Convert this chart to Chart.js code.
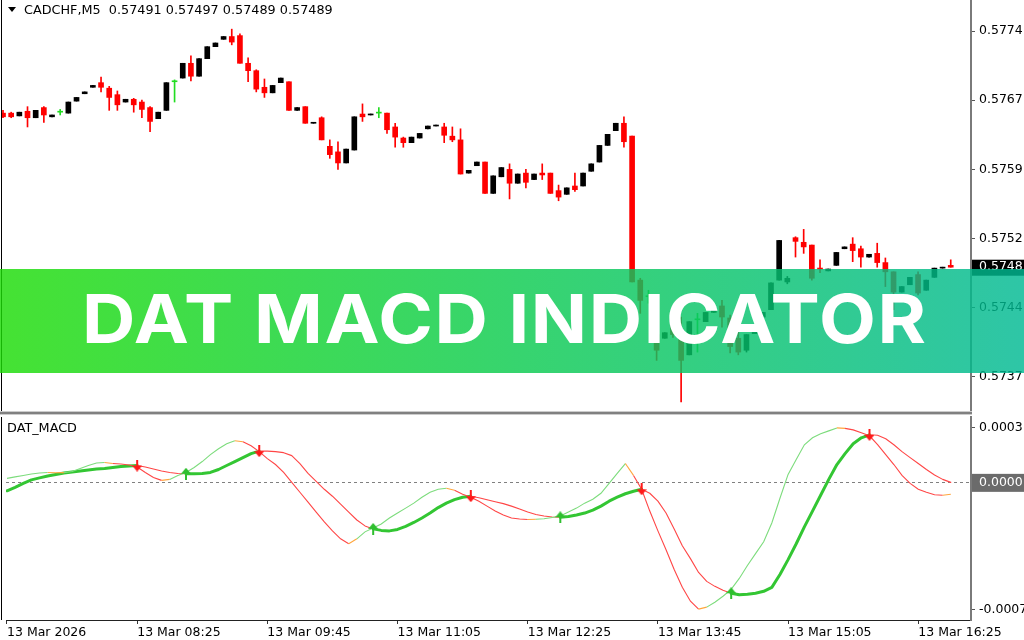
<!DOCTYPE html>
<html>
<head>
<meta charset="utf-8">
<title>CADCHF M5 - DAT MACD</title>
<script src="https://cdn.jsdelivr.net/npm/chart.js@4.4.1/dist/chart.umd.min.js"></script>
<style>
html,body{margin:0;padding:0;background:#fff;}
#wrap{position:relative;width:1024px;height:640px;overflow:hidden;background:#fff;}
#c1,#c2{position:absolute;left:0;}
#c1{top:0;}
#c2{top:411px;}
.lbl{position:absolute;font-family:"DejaVu Sans";font-size:12.8px;line-height:1;color:#000;white-space:pre;}
#tri{position:absolute;left:8px;top:7px;width:0;height:0;border-left:4px solid transparent;border-right:4px solid transparent;border-top:5px solid #000;}
#banner{position:absolute;left:0;top:269px;width:1024px;height:104px;background:linear-gradient(90deg,rgba(28,220,6,0.82) 0%,rgba(11,203,78,0.82) 50%,rgba(0,185,147,0.82) 100%);}
#btxt{position:absolute;font-family:Inter;font-weight:700;font-size:68px;line-height:68px;color:#fff;white-space:pre;transform-origin:0 0;}
</style>
</head>
<body>
<div id="wrap">
<canvas id="c1" width="1024" height="411"></canvas>
<canvas id="c2" width="1024" height="229"></canvas>
<div id="tri"></div>
<div id="hdr" class="lbl" style="left:24px;top:4px;"></div>
<div id="ind" class="lbl" style="left:7px;top:422px;"></div>
<div id="banner"><span id="btxt"></span></div>
</div>
<script>
// ---------------- data ----------------
const symbol = 'CADCHF,M5';
const indicatorName = 'DAT_MACD';
const bannerTitle = 'DAT MACD INDICATOR';

const open = [0.57656,0.57656,0.57653,0.57658,0.57651,0.57662,0.57652,0.57657,0.57656,0.57669,
0.57677,0.57684,0.57689,0.57683,0.57676,0.57668,0.57671,0.57668,0.57662,0.57650,
0.57659,0.57690,0.57694,0.57710,0.57696,0.57715,0.57728,0.57736,0.57739,0.57740,
0.57710,0.57702,0.57684,0.57678,0.57689,0.57690,0.57659,0.57663,0.57645,0.57651,
0.57620,0.57614,0.57602,0.57616,0.57655,0.57654,0.57656,0.57656,0.57641,0.57629,
0.57624,0.57629,0.57639,0.57642,0.57641,0.57631,0.57627,0.57591,0.57599,0.57603,
0.57569,0.57587,0.57595,0.57580,0.57591,0.57584,0.57591,0.57591,0.57572,0.57568,
0.57577,0.57577,0.57593,0.57603,0.57621,0.57637,0.57645,0.57631,0.57475,0.57457,
0.57416,0.57412,0.57426,0.57413,0.57394,0.57432,0.57430,0.57440,0.57447,0.57434,
0.57412,0.57399,0.57417,0.57435,0.57443,0.57475,0.57473,0.57521,0.57516,0.57513,
0.57488,0.57485,0.57491,0.57509,0.57514,0.57509,0.57500,0.57504,0.57494,0.57484,
0.57462,0.57470,0.57481,0.57464,0.57478,0.57488,0.57491];

const high = [0.57659,0.57657,0.57657,0.57663,0.57659,0.57663,0.57654,0.57660,0.57668,0.57673,
0.57679,0.57686,0.57695,0.57685,0.57680,0.57671,0.57672,0.57670,0.57663,0.57657,
0.57689,0.57692,0.57710,0.57718,0.57715,0.57728,0.57732,0.57739,0.57747,0.57742,
0.57716,0.57703,0.57693,0.57686,0.57694,0.57690,0.57662,0.57663,0.57646,0.57652,
0.57627,0.57625,0.57617,0.57652,0.57666,0.57655,0.57662,0.57656,0.57645,0.57630,
0.57630,0.57634,0.57642,0.57643,0.57645,0.57641,0.57639,0.57594,0.57603,0.57603,
0.57588,0.57597,0.57601,0.57590,0.57595,0.57590,0.57601,0.57591,0.57578,0.57575,
0.57591,0.57591,0.57601,0.57621,0.57633,0.57645,0.57652,0.57631,0.57477,0.57464,
0.57439,0.57418,0.57430,0.57435,0.57430,0.57439,0.57440,0.57445,0.57453,0.57437,
0.57421,0.57416,0.57419,0.57440,0.57472,0.57518,0.57479,0.57522,0.57530,0.57513,
0.57497,0.57487,0.57505,0.57511,0.57521,0.57512,0.57503,0.57515,0.57499,0.57484,
0.57468,0.57478,0.57484,0.57475,0.57488,0.57489,0.57497];

const low = [0.57651,0.57651,0.57653,0.57641,0.57651,0.57646,0.57652,0.57654,0.57656,0.57669,
0.57677,0.57684,0.57679,0.57659,0.57659,0.57668,0.57657,0.57651,0.57636,0.57650,
0.57659,0.57668,0.57694,0.57691,0.57696,0.57715,0.57728,0.57736,0.57730,0.57710,
0.57690,0.57679,0.57673,0.57678,0.57689,0.57659,0.57659,0.57645,0.57645,0.57627,
0.57607,0.57595,0.57602,0.57616,0.57647,0.57654,0.57651,0.57634,0.57619,0.57619,
0.57624,0.57629,0.57639,0.57642,0.57624,0.57625,0.57590,0.57591,0.57599,0.57569,
0.57569,0.57587,0.57563,0.57580,0.57575,0.57584,0.57584,0.57569,0.57561,0.57568,
0.57571,0.57577,0.57593,0.57603,0.57621,0.57637,0.57619,0.57473,0.57439,0.57450,
0.57388,0.57412,0.57413,0.57343,0.57394,0.57397,0.57430,0.57440,0.57424,0.57396,
0.57394,0.57397,0.57417,0.57435,0.57443,0.57475,0.57471,0.57500,0.57504,0.57475,
0.57483,0.57485,0.57491,0.57509,0.57495,0.57489,0.57500,0.57489,0.57468,0.57443,
0.57462,0.57470,0.57459,0.57464,0.57478,0.57488,0.57489];

const close = [0.57652,0.57652,0.57657,0.57651,0.57659,0.57654,0.57654,0.57657,0.57668,0.57673,
0.57679,0.57686,0.57684,0.57673,0.57665,0.57671,0.57665,0.57660,0.57647,0.57657,
0.57689,0.57690,0.57710,0.57696,0.57715,0.57728,0.57732,0.57739,0.57733,0.57710,
0.57702,0.57682,0.57678,0.57686,0.57694,0.57659,0.57662,0.57645,0.57646,0.57627,
0.57611,0.57602,0.57617,0.57652,0.57652,0.57655,0.57656,0.57638,0.57630,0.57624,
0.57630,0.57634,0.57642,0.57643,0.57632,0.57627,0.57590,0.57594,0.57603,0.57569,
0.57588,0.57597,0.57580,0.57590,0.57581,0.57590,0.57589,0.57569,0.57565,0.57575,
0.57573,0.57591,0.57601,0.57621,0.57633,0.57645,0.57625,0.57473,0.57453,0.57457,
0.57399,0.57418,0.57416,0.57388,0.57430,0.57432,0.57440,0.57445,0.57435,0.57403,
0.57397,0.57416,0.57419,0.57440,0.57472,0.57518,0.57477,0.57517,0.57511,0.57477,
0.57487,0.57487,0.57505,0.57511,0.57507,0.57500,0.57503,0.57494,0.57484,0.57462,
0.57468,0.57478,0.57461,0.57475,0.57488,0.57489,0.57489];

// DAT_MACD fast (main) line
const macdMain = [0.0000217,0.0000299,0.0000380,0.0000462,0.0000516,0.0000543,0.0000527,0.0000533,0.0000598,0.0000761,
0.0000924,0.0001060,0.0001087,0.0001033,0.0001005,0.0000951,0.0000842,0.0000543,0.0000272,0.0000109,
0.0000163,0.0000380,0.0000543,0.0000815,0.0001141,0.0001522,0.0001848,0.0002120,0.0002283,0.0002228,
0.0002011,0.0001685,0.0001304,0.0000978,0.0000543,0.0000000,-0.0000543,-0.0001087,-0.0001630,-0.0002174,
-0.0002663,-0.0003098,-0.0003370,-0.0003098,-0.0002717,-0.0002500,-0.0002283,-0.0001957,-0.0001685,-0.0001413,
-0.0001141,-0.0000815,-0.0000543,-0.0000380,-0.0000326,-0.0000435,-0.0000652,-0.0000815,-0.0001033,-0.0001304,
-0.0001576,-0.0001793,-0.0001957,-0.0002011,-0.0002038,-0.0002022,-0.0002000,-0.0001929,-0.0001848,-0.0001630,
-0.0001413,-0.0001141,-0.0000924,-0.0000598,-0.0000054,0.0000489,0.0001033,0.0000380,-0.0000380,-0.0001576,
-0.0002663,-0.0003696,-0.0004783,-0.0005761,-0.0006522,-0.0006957,-0.0006848,-0.0006576,-0.0006250,-0.0005870,
-0.0005272,-0.0004565,-0.0003913,-0.0003261,-0.0002228,-0.0000870,0.0000435,0.0001250,0.0002065,0.0002446,
0.0002663,0.0002826,0.0002989,0.0002962,0.0002880,0.0002717,0.0002554,0.0002065,0.0001522,0.0000978,
0.0000380,-0.0000054,-0.0000380,-0.0000543,-0.0000679,-0.0000707,-0.0000652];

// DAT_MACD slow (signal) line
const macdSignal = [-0.0000462,-0.0000272,-0.0000054,0.0000136,0.0000245,0.0000353,0.0000435,0.0000516,0.0000571,0.0000625,
0.0000679,0.0000734,0.0000761,0.0000815,0.0000870,0.0000897,0.0000924,0.0000842,0.0000734,0.0000625,
0.0000543,0.0000489,0.0000473,0.0000473,0.0000489,0.0000543,0.0000707,0.0000924,0.0001141,0.0001359,
0.0001576,0.0001712,0.0001712,0.0001685,0.0001630,0.0001467,0.0001033,0.0000489,0.0000054,-0.0000380,
-0.0000761,-0.0001196,-0.0001630,-0.0002065,-0.0002391,-0.0002554,-0.0002636,-0.0002663,-0.0002582,-0.0002418,
-0.0002201,-0.0001957,-0.0001685,-0.0001386,-0.0001141,-0.0000951,-0.0000815,-0.0000761,-0.0000842,-0.0000951,
-0.0001060,-0.0001168,-0.0001304,-0.0001467,-0.0001630,-0.0001766,-0.0001848,-0.0001902,-0.0001918,-0.0001875,
-0.0001793,-0.0001685,-0.0001522,-0.0001304,-0.0001033,-0.0000815,-0.0000625,-0.0000489,-0.0000380,-0.0000598,
-0.0001033,-0.0001685,-0.0002554,-0.0003478,-0.0004185,-0.0004946,-0.0005435,-0.0005707,-0.0005924,-0.0006087,
-0.0006168,-0.0006141,-0.0006087,-0.0005978,-0.0005761,-0.0005054,-0.0004239,-0.0003370,-0.0002446,-0.0001576,
-0.0000707,0.0000163,0.0000978,0.0001576,0.0002120,0.0002446,0.0002609,0.0002582,0.0002391,0.0002065,
0.0001685,0.0001359,0.0001033,0.0000707,0.0000408,0.0000163,0.0000000];

const upArrowBars = [22,45,68,89];
const downArrowBars = [16,31,57,78,106];

const timeTickBars = [0,16,32,48,64,80,96,112];
const timeTickLabels = ['13 Mar 2026','13 Mar 08:25','13 Mar 09:45','13 Mar 11:05','13 Mar 12:25','13 Mar 13:45','13 Mar 15:05','13 Mar 16:25'];
const priceTicks = [0.57370,0.57445,0.57520,0.57595,0.57670,0.57745];
const macdTicks = [-0.0007,0,0.0003];

// ---------------- helpers (styling only) ----------------
const bars = close.map((_, i) => i);
const last = close.length - 1;
const lastClose = close[last];
const X_MIN = -0.1224, X_MAX = 118.48;

Chart.defaults.font.family = 'DejaVu Sans';
Chart.defaults.color = '#000';

// price-axis labels are cut at the window edge: show the first four decimals
const cut4 = v => (Math.floor(v * 10000 + 1e-6) / 10000).toFixed(4);

function candleColor(i){
  if (close[i] > open[i]) return '#000000';
  if (close[i] < open[i]) return '#ff0000';
  return '#22dd22';
}
const bull = [];
{ let st = true; for (const i of bars){ if (upArrowBars.includes(i)) st = true; if (downArrowBars.includes(i)) st = false; bull.push(st); } }

function mainSegColor(ctx){
  const i = ctx.p0DataIndex;
  const d = Math.sign(macdMain[i+1]-macdMain[i]);
  const pd = i > 0 ? Math.sign(macdMain[i]-macdMain[i-1]) : d;
  if (d !== pd) return '#ffa63c';
  return d > 0 ? '#7ddc7d' : '#ff4646';
}

function arrowImg(color, up){
  const c = document.createElement('canvas'); c.width = 10; c.height = 12;
  const g = c.getContext('2d'); g.fillStyle = color;
  g.beginPath();
  if (up){ g.moveTo(5,0); g.lineTo(10,6); g.lineTo(0,6); g.closePath(); g.fill(); g.fillRect(4,5,2,7); }
  else { g.fillRect(4,0,2,7); g.moveTo(0,6); g.lineTo(10,6); g.lineTo(5,12); g.closePath(); g.fill(); }
  return c;
}
const upImg = arrowImg('#2fbf2f', true);
const downImg = arrowImg('#ff1a1a', false);

// ---------------- top: candlesticks ----------------
const topFrame = {
  id:'topFrame',
  afterDraw(chart){
    const g = chart.ctx;
    g.save(); g.fillStyle = '#000'; g.fillRect(1, 0, 1, chart.chartArea.bottom); g.restore();
  }
};

new Chart(document.getElementById('c1'), {
  type:'bar',
  data:{ datasets:[
    { label:'wick', data: bars.map(i => ({x:i, y:[low[i], high[i]]})), backgroundColor: bars.map(candleColor),
      barThickness:1, grouped:false, order:2, borderWidth:0 },
    { label:'body', data: bars.map(i => ({x:i, y:[open[i], close[i]]})), backgroundColor: bars.map(candleColor),
      barThickness:5, minBarLength:1, grouped:false, order:1, borderWidth:0 }
  ]},
  options:{
    responsive:false, animation:false, devicePixelRatio:1, events:[],
    layout:{padding:{left:2, top:0, right:0, bottom:0}},
    plugins:{legend:{display:false}, tooltip:{enabled:false}, title:{display:false}},
    scales:{
      x:{type:'linear', min:X_MIN, max:X_MAX, offset:false, display:false},
      y:{type:'linear', position:'right', min:0.5733315, max:0.577786,
        afterFit(s){ s.width = 53; s.paddingTop = 0; s.paddingBottom = 0; },
        afterBuildTicks(s){ s.ticks = priceTicks.concat([lastClose]).sort((a,b)=>a-b).map(v => ({value:v})); },
        ticks:{ autoSkip:false, padding:4, font:{size:12.5},
          callback: v => cut4(Number(v)),
          color: c => (c.tick && c.tick.value === lastClose) ? '#fff' : '#000',
          showLabelBackdrop:true,
          backdropColor: c => (c.tick && c.tick.value === lastClose) ? '#000' : 'rgba(0,0,0,0)',
          backdropPadding:{top:0, bottom:1, left:7, right:12} },
        grid:{ drawOnChartArea:false, drawTicks:true, tickLength:4,
          color: c => (c.tick && c.tick.value === lastClose) ? 'rgba(0,0,0,0)' : '#555' },
        border:{ display:true, color:'#7a7a7a', width:2 }
      }
    }
  },
  plugins:[topFrame]
});

// ---------------- bottom: DAT_MACD ----------------
const bottomFrame = {
  id:'bottomFrame',
  beforeDatasetsDraw(chart){
    const g = chart.ctx, a = chart.chartArea;
    const y = Math.round(chart.scales.y.getPixelForValue(0)) + 0.5;
    g.save(); g.strokeStyle = '#808080'; g.lineWidth = 1; g.setLineDash([3,3]);
    g.beginPath(); g.moveTo(a.left, y); g.lineTo(a.right, y); g.stroke(); g.restore();
  },
  afterDraw(chart){
    const g = chart.ctx, a = chart.chartArea;
    g.save();
    g.fillStyle = '#808080'; g.fillRect(0, 0.6, a.right + 1, 2.8);
    g.fillStyle = '#000'; g.fillRect(1, a.top, 1, a.bottom - a.top);
    g.restore();
  }
};

new Chart(document.getElementById('c2'), {
  type:'line',
  data:{ datasets:[
    { label:'signal', data: bars.map(i => ({x:i, y:macdSignal[i]})), pointRadius:0, borderWidth:1,
      borderJoinStyle:'round', borderCapStyle:'round', order:3,
      segment:{ borderColor: c => bull[c.p0DataIndex] ? '#33c633' : '#ff4646',
                borderWidth: c => bull[c.p0DataIndex] ? 3 : 1.1 } },
    { label:'main', data: bars.map(i => ({x:i, y:macdMain[i]})), pointRadius:0, borderWidth:1.1, order:2,
      segment:{ borderColor: mainSegColor } },
    { label:'up', type:'scatter', data: upArrowBars.map(i => ({x:i, y:macdSignal[i]})), pointStyle:upImg, pointRadius:5, order:1 },
    { label:'down', type:'scatter', data: downArrowBars.map(i => ({x:i, y:macdSignal[i]})), pointStyle:downImg, pointRadius:5, order:0 }
  ]},
  options:{
    responsive:false, animation:false, devicePixelRatio:1, events:[],
    layout:{padding:{left:2, top:4, right:0, bottom:0}},
    plugins:{legend:{display:false}, tooltip:{enabled:false}, title:{display:false}},
    scales:{
      x:{type:'linear', min:X_MIN, max:X_MAX, offset:false, position:'bottom',
        afterFit(s){ s.height = 20; s.paddingLeft = 0; s.paddingRight = 0; },
        afterBuildTicks(s){ s.ticks = timeTickBars.map(v => ({value:v})); },
        ticks:{ autoSkip:false, maxRotation:0, minRotation:0, align:'start', padding:1, font:{size:12.5},
          callback: v => timeTickLabels[timeTickBars.indexOf(v)] },
        grid:{ drawOnChartArea:false, drawTicks:true, tickLength:4, color:'#333' },
        border:{ display:true, color:'#222', width:1 }
      },
      y:{type:'linear', position:'right', min:-0.0007554, max:0.0003587,
        afterFit(s){ s.width = 53; s.paddingTop = 0; s.paddingBottom = 0; },
        afterBuildTicks(s){ s.ticks = macdTicks.map(v => ({value:v})); },
        ticks:{ autoSkip:false, padding:4, font:{size:12.5},
          callback: v => Number(v).toFixed(4),
          color: c => (c.tick && c.tick.value === 0) ? '#fff' : '#000',
          showLabelBackdrop:true,
          backdropColor: c => (c.tick && c.tick.value === 0) ? '#6b6b6b' : 'rgba(0,0,0,0)',
          backdropPadding:{top:1, bottom:2, left:7, right:10} },
        grid:{ drawOnChartArea:false, drawTicks:true, tickLength:4, color:'#555' },
        border:{ display:true, color:'#7a7a7a', width:2 }
      }
    }
  },
  plugins:[bottomFrame]
});

// ---------------- text overlays ----------------
const f5 = v => v.toFixed(5);
document.getElementById('hdr').textContent = symbol + '  ' + f5(open[last]) + ' ' + f5(high[last]) + ' ' + f5(low[last]) + ' ' + f5(close[last]);
document.getElementById('ind').textContent = indicatorName;

const t = document.getElementById('btxt');
t.textContent = bannerTitle;
const mctx = document.createElement('canvas').getContext('2d');
mctx.font = '700 68px Inter';
const m = mctx.measureText(bannerTitle);
const glyphW = m.actualBoundingBoxLeft + m.actualBoundingBoxRight;
const LS = 1.5;
const targetW = 839;
const sx = targetW / (glyphW + LS * (bannerTitle.length - 1));
t.style.letterSpacing = LS + 'px';
t.style.transform = 'scaleX(' + sx.toFixed(4) + ')';
t.style.left = (86 + m.actualBoundingBoxLeft * sx) + 'px';
const A = m.fontBoundingBoxAscent, D = m.fontBoundingBoxDescent;
const baseOff = (68 - (A + D)) / 2 + A;
t.style.top = (342.7 - 269 - baseOff) + 'px';
</script>
</body>
</html>
